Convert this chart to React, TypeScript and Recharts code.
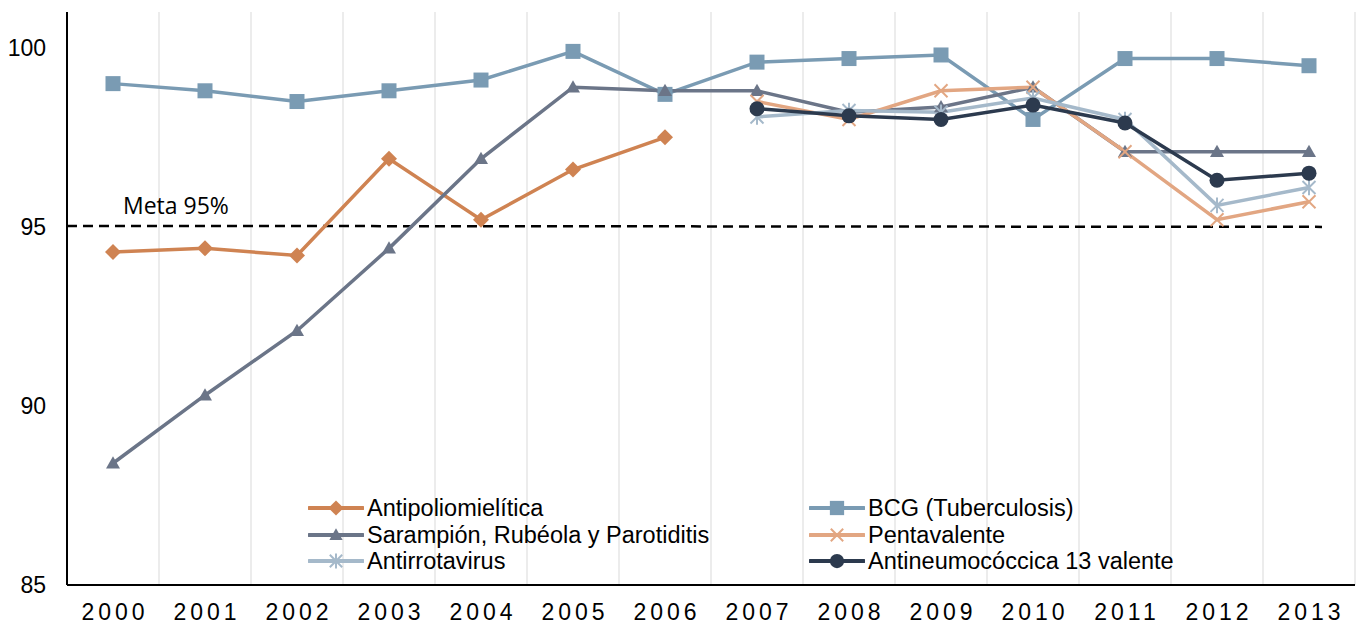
import React from 'react';
import { LineChart, Line, XAxis, YAxis, CartesianGrid, ReferenceLine } from 'recharts';

const years = ['2000', '2001', '2002', '2003', '2004', '2005', '2006', '2007', '2008', '2009', '2010', '2011', '2012', '2013'];
const antipoliomielitica = [94.3, 94.4, 94.2, 96.9, 95.2, 96.6, 97.5, null, null, null, null, null, null, null];
const bcg = [99.0, 98.8, 98.5, 98.8, 99.1, 99.9, 98.7, 99.6, 99.7, 99.8, 98.0, 99.7, 99.7, 99.5];
const sarampion = [88.4, 90.3, 92.1, 94.4, 96.9, 98.9, 98.8, 98.8, 98.2, 98.35, 98.9, 97.1, 97.1, 97.1];
const pentavalente = [null, null, null, null, null, null, null, 98.5, 98.0, 98.8, 98.9, 97.1, 95.2, 95.7];
const antirrotavirus = [null, null, null, null, null, null, null, 98.07, 98.25, 98.2, 98.6, 98.0, 95.6, 96.1];
const antineumococcica = [null, null, null, null, null, null, null, 98.3, 98.1, 98.0, 98.4, 97.9, 96.3, 96.5];
const yTicks = [85, 90, 95, 100];
const metaValue = 95;
const metaLabel = 'Meta 95%';

type Marker = 'diamond' | 'square' | 'triangle' | 'x' | 'asterisk' | 'circle';

const series: { key: string; name: string; color: string; marker: Marker; values: (number | null)[] }[] = [
  { key: 'antipolio', name: 'Antipoliomielítica', color: '#cf8352', marker: 'diamond', values: antipoliomielitica },
  { key: 'bcg', name: 'BCG (Tuberculosis)', color: '#7a9bb3', marker: 'square', values: bcg },
  { key: 'sarampion', name: 'Sarampión, Rubéola y Parotiditis', color: '#6b7588', marker: 'triangle', values: sarampion },
  { key: 'penta', name: 'Pentavalente', color: '#e2a682', marker: 'x', values: pentavalente },
  { key: 'rota', name: 'Antirrotavirus', color: '#a5b9ca', marker: 'asterisk', values: antirrotavirus },
  { key: 'neumo', name: 'Antineumocóccica 13 valente', color: '#2c3a4e', marker: 'circle', values: antineumococcica },
];

const data = years.map((year, i) => {
  const row: Record<string, string | number | null> = { year };
  series.forEach((s) => {
    row[s.key] = s.values[i];
  });
  return row;
});

function drawMarker(marker: Marker, cx: number, cy: number, color: string, scale = 1) {
  switch (marker) {
    case 'diamond': {
      const s = 8 * scale;
      return <polygon points={`${cx},${cy - s} ${cx + s},${cy} ${cx},${cy + s} ${cx - s},${cy}`} fill={color} />;
    }
    case 'square': {
      const s = 7.5 * scale;
      return <rect x={cx - s} y={cy - s} width={2 * s} height={2 * s} fill={color} />;
    }
    case 'triangle': {
      const s = 7 * scale;
      return <polygon points={`${cx},${cy - s} ${cx + s},${cy + s * 0.75} ${cx - s},${cy + s * 0.75}`} fill={color} />;
    }
    case 'x': {
      const s = 6.5 * scale;
      return (
        <g stroke={color} strokeWidth={2}>
          <line x1={cx - s} y1={cy - s} x2={cx + s} y2={cy + s} />
          <line x1={cx - s} y1={cy + s} x2={cx + s} y2={cy - s} />
        </g>
      );
    }
    case 'asterisk': {
      const s = 6.5 * scale;
      return (
        <g stroke={color} strokeWidth={2}>
          <line x1={cx - s} y1={cy - s} x2={cx + s} y2={cy + s} />
          <line x1={cx - s} y1={cy + s} x2={cx + s} y2={cy - s} />
          <line x1={cx} y1={cy - s * 1.2} x2={cx} y2={cy + s * 1.2} />
        </g>
      );
    }
    case 'circle':
    default:
      return <circle cx={cx} cy={cy} r={7.5 * scale} fill={color} />;
  }
}

const makeDot = (marker: Marker, color: string) => (props: any) => {
  const { cx, cy, value, index } = props;
  if (cx == null || cy == null || value == null || Number.isNaN(cy)) return <g key={`e-${index}`} />;
  return <g key={`d-${index}`}>{drawMarker(marker, cx, cy, color)}</g>;
};

const XTick = (props: any) => {
  const { x, y, payload } = props;
  return (
    <text x={x} y={y} dx={2} dy={35} textAnchor="middle" fontSize={23} letterSpacing={4} fill="#000"
      fontFamily="'Liberation Sans', Arial, Helvetica, sans-serif">
      {payload.value}
    </text>
  );
};

const YTick = (props: any) => {
  const { x, y, payload } = props;
  return (
    <text x={x - 21} y={y} dy={8} textAnchor="end" fontSize={23} fill="#000"
      fontFamily="'Liberation Sans', Arial, Helvetica, sans-serif">
      {payload.value}
    </text>
  );
};

const MetaLine = (props: any) => {
  const { x1, y1, x2, y2 } = props;
  return (
    <g>
      <line x1={x1} y1={y1 - 1} x2={x2 - 33} y2={y2} stroke="#000" strokeWidth={2.5} strokeDasharray="10 6" />
      <text x={x1 + 56} y={y1 - 13} fontSize={23} fill="#000" fontFamily="'Open Sans', sans-serif">
        {metaLabel}
      </text>
    </g>
  );
};

const legendCols = [308, 809];
const legendRows = [508, 534.5, 561];

const LegendOverlay = () => (
  <div style={{ position: 'absolute', left: 0, top: 0, width: 1356, height: 625, pointerEvents: 'none' }}>
    {series.map((s, i) => {
      const col = i % 2;
      const row = Math.floor(i / 2);
      const left = legendCols[col];
      const top = legendRows[row];
      return (
        <div key={s.key} style={{ position: 'absolute', left, top: top - 14, height: 28, display: 'flex', alignItems: 'center', whiteSpace: 'nowrap' }}>
          <svg width={56} height={28} style={{ display: 'block' }}>
            <line x1={1} y1={14} x2={55} y2={14} stroke={s.color} strokeWidth={4} strokeLinecap="round" />
            {drawMarker(s.marker, 28, 14, s.color, 0.95)}
          </svg>
          <span style={{ marginLeft: 3, fontSize: 23.5, color: '#000', fontFamily: "'Liberation Sans', Arial, Helvetica, sans-serif", lineHeight: '28px' }}>
            {s.name}
          </span>
        </div>
      );
    })}
  </div>
);

export default function App() {
  return (
    <div style={{ position: 'absolute', left: 0, top: 0, width: 1356, height: 625, background: '#fff' }}>
      <LineChart width={1356} height={625} data={data} margin={{ top: 12, right: 1, bottom: 0, left: 0 }}>
        <CartesianGrid
          horizontal={false}
          vertical
          stroke="#d9d9d9"
          strokeWidth={1}
          verticalCoordinatesGenerator={({ offset }: any) =>
            years.map((_, i) => offset.left + ((i + 1) * offset.width) / years.length)
          }
        />
        <XAxis
          dataKey="year"
          height={40}
          interval={0}
          padding={{ left: 46, right: 46 }}
          tickLine={false}
          tickSize={0}
          tickMargin={0}
          axisLine={{ stroke: '#000', strokeWidth: 2 }}
          tick={<XTick />}
        />
        <YAxis
          width={67}
          domain={[85, 101]}
          ticks={yTicks}
          allowDataOverflow
          tickLine={false}
          tickSize={0}
          tickMargin={0}
          axisLine={{ stroke: '#000', strokeWidth: 2 }}
          tick={<YTick />}
        />
        <ReferenceLine y={metaValue} shape={<MetaLine />} />
        {series.map((s) => (
          <Line
            key={s.key}
            type="linear"
            dataKey={s.key}
            name={s.name}
            stroke={s.color}
            strokeWidth={3.5}
            dot={makeDot(s.marker, s.color)}
            activeDot={false}
            isAnimationActive={false}
            connectNulls={false}
          />
        ))}
      </LineChart>
      <LegendOverlay />
    </div>
  );
}
